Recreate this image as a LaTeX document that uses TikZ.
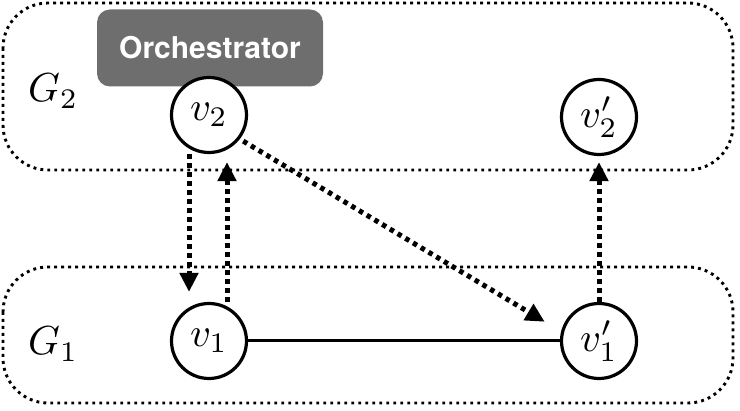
\documentclass[tikz,border=0pt]{standalone}
\usepackage{graphicx}
\usepackage{fontspec}
\newfontfamily\orchfont{TeX Gyre Heros}
\usetikzlibrary{arrows.meta}
\definecolor{orchgray}{RGB}{110,110,110}
\newcommand{\bigmath}[1]{\scalebox{4.05}{$#1$}}
\tikzset{
  groupbox/.style={draw, line width=2.9pt, dash pattern=on 2.9pt off 4.1pt, rounded corners=45pt},
  vertex/.style={circle, draw, line width=3.2pt, fill=white, minimum size=75pt, inner sep=0pt},
  glabel/.style={anchor=base west, inner sep=0pt},
  msg/.style={line width=5pt, dash pattern=on 4.5pt off 4.5pt, -{Triangle[length=19pt,width=18pt]}},
  link/.style={line width=3pt},
  orch/.style={fill=orchgray, rounded corners=13pt, text=white, font=\orchfont\bfseries\fontsize{30}{35}\selectfont, minimum width=226pt, minimum height=77pt, inner sep=0pt}
}
\begin{document}
\begin{tikzpicture}[x=1pt,y=-1pt]
\useasboundingbox (0,0) rectangle (740,411);
\draw[groupbox] (3,3) rectangle (733,170);
\draw[groupbox] (3,267) rectangle (733,403);
\node[glabel] (g2) at (28,102) {\bigmath{G_2}};
\node[glabel] (g1) at (28,355) {\bigmath{G_1}};
\node[orch] (orc) at (210,48) {Orchestrator};
\node[vertex] (v2) at (209,115) {\bigmath{v_2}};
\node[vertex] (v2p) at (599,117) {\bigmath{v_2'}};
\node[vertex] (v1) at (209,341) {\bigmath{v_1}};
\node[vertex] (v1p) at (599,341) {\bigmath{v_1'}};
\draw[link] (v1) -- (v1p);
\draw[msg, shorten >=10pt] ([xshift=-20pt]v2.south) -- ([xshift=-20pt]v1.north);
\draw[msg, shorten >=8pt] ([xshift=18pt]v1.north) -- ([xshift=18pt]v2.south);
\draw[msg, shorten >=6pt] (v1p) -- (v2p);
\draw[msg, shorten <=4pt, shorten >=19pt] (v2.-38) -- (v1p.166);
\end{tikzpicture}
\end{document}
